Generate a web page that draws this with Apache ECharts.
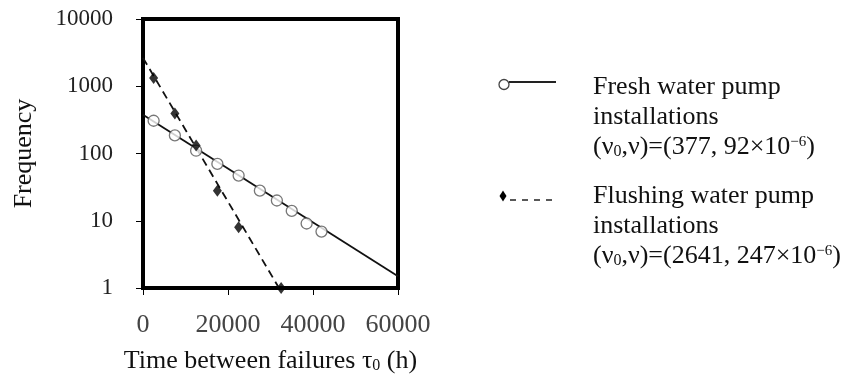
<!DOCTYPE html>
<html>
<head>
<meta charset="utf-8">
<script src="https://cdn.jsdelivr.net/npm/echarts@6/dist/echarts.min.js"></script>
<style>html,body{margin:0;padding:0;background:#fff}#c{width:857px;height:389px}</style>
</head>
<body>
<div id="c"></div>
<script>
// Data
var freshX = [2500, 7500, 12500, 17500, 22500, 27500, 31500, 35000, 38500, 42000];
var freshY = [307, 186, 110, 70, 47, 28, 20, 14, 9.1, 6.9];
var flushX = [2500, 7500, 12500, 17500, 22500, 32500];
var flushY = [1330, 395, 131, 28, 8, 1];
// Fitted lines (end points)
var freshFitX = [0, 60000];
var freshFitY = [377, 1.5];
var flushFitX = [0, 32000];
var flushFitY = [2641, 1];
var xTicks = [0, 20000, 40000, 60000];
var yTicks = [1, 10, 100, 1000, 10000];
var legendTexts = [
  ['Fresh water pump', 'installations', '(ν{sub|0},ν)=(377, 92×10{sup|−6})'],
  ['Flushing water pump', 'installations', '(ν{sub|0},ν)=(2641, 247×10{sup|−6})']
];

function zip(a, b) { return a.map(function (v, i) { return [v, b[i]]; }); }

var FONT = '"Liberation Serif", "Times New Roman", serif';
var chart = echarts.init(document.getElementById('c'), null, {renderer: 'canvas'});

var rich = {
  sub: {fontSize: 16, fontFamily: FONT, color: '#111', padding: [10, 0, 0, 0]},
  sup: {fontSize: 15, fontFamily: FONT, color: '#111', padding: [0, 0, 10, 0]}
};

var graphics = [];
// legend icons
graphics.push({type: 'line', shape: {x1: 509, y1: 82, x2: 556, y2: 82}, style: {stroke: '#222', lineWidth: 2}});
graphics.push({type: 'circle', shape: {cx: 504, cy: 84.5, r: 5}, style: {fill: '#fff', stroke: '#444', lineWidth: 1.3}});
graphics.push({type: 'polygon', shape: {points: [[503, 190.5], [506.5, 196], [503, 201.5], [499.5, 196]]}, style: {fill: '#000'}});
graphics.push({type: 'line', shape: {x1: 510, y1: 200, x2: 556, y2: 200}, style: {stroke: '#222', lineWidth: 1.5, lineDash: [6, 6]}});
var rowsY = [[87, 117, 147], [196, 226, 256]];
legendTexts.forEach(function (lines, k) {
  lines.forEach(function (t, j) {
    graphics.push({type: 'text', x: 593, y: rowsY[k][j], style: {text: t, rich: rich, fontSize: 26, fontFamily: FONT, fill: '#111', verticalAlign: 'middle', align: 'left'}});
  });
});

chart.setOption({
  animation: false,
  grid: {left: 143, right: 459, top: 19, bottom: 101, show: true, borderColor: '#000', borderWidth: 4, containLabel: false},
  xAxis: {
    type: 'value', min: xTicks[0], max: xTicks[xTicks.length - 1], interval: xTicks[1] - xTicks[0],
    axisLine: {show: false},
    axisTick: {show: true, length: 7, lineStyle: {color: '#000', width: 1}},
    splitLine: {show: false},
    axisLabel: {margin: 24, fontSize: 26, fontFamily: FONT, color: '#444', formatter: function (v) { return String(v); }},
    name: 'Time between failures τ{sub|0} (h)',
    nameLocation: 'middle', nameGap: 60,
    nameTextStyle: {fontSize: 26, fontFamily: FONT, color: '#111', rich: rich}
  },
  yAxis: {
    type: 'log', logBase: 10, min: yTicks[0], max: yTicks[yTicks.length - 1],
    axisLine: {show: false},
    axisTick: {show: true, length: 7, lineStyle: {color: '#000', width: 1}},
    minorTick: {show: false},
    splitLine: {show: false},
    axisLabel: {margin: 30, fontSize: 23, fontFamily: FONT, color: '#222', formatter: function (v) { return String(v); }},
    name: 'Frequency', nameLocation: 'middle', nameGap: 106, nameRotate: 90,
    nameTextStyle: {fontSize: 26, fontFamily: FONT, color: '#111'}
  },
  series: [
    {type: 'line', data: zip(freshFitX, freshFitY), symbol: 'none', lineStyle: {color: '#111', width: 1.8}, z: 2},
    {type: 'line', data: zip(flushFitX, flushFitY), symbol: 'none', lineStyle: {color: '#111', width: 1.8, type: [8, 5]}, z: 2},
    {type: 'scatter', data: zip(freshX, freshY), symbol: 'circle', symbolSize: 11, itemStyle: {color: '#fff', borderColor: '#555', borderWidth: 1.3}, z: 3},
    {type: 'scatter', data: zip(flushX, flushY), symbol: 'diamond', symbolSize: [9, 12], itemStyle: {color: '#000'}, z: 4, clip: false}
  ],
  graphic: graphics
});
</script>
</body>
</html>
